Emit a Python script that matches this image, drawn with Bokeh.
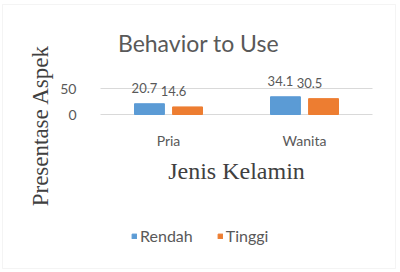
import math
from bokeh.plotting import figure
from bokeh.models import (ColumnDataSource, FixedTicker, Range1d, Label, Legend,
                          LegendItem, BoxAnnotation)
from bokeh.transform import dodge
from bokeh.core.properties import value
from bokeh.embed import file_html
from bokeh.resources import INLINE

categories = ["Pria", "Wanita"]
rendah = [20.7, 34.1]
tinggi = [14.6, 30.5]
series_names = ["Rendah", "Tinggi"]
y_ticks = [0, 50]
title_text = "Behavior to Use"
x_title = "Jenis Kelamin"
y_title = "Presentase Aspek"

BLUE = "#5B9BD5"
ORANGE = "#ED7D31"
GRAY = "#595959"
DARK = "#404040"
FONT = "Lato"
SERIF = "Liberation Serif"

W, H = 400, 272
# plot area: x 100..372 px holds the categories; value 0 at 114 px, 50 at 88 px
PX_PER_CAT = 136.0
PX_PER_UNIT = 26.0 / 50.0
x0_px, y0_px = 100, 114
n = len(categories)
centers = [i + 0.5 for i in range(n)]

src = ColumnDataSource(dict(
    xc=centers, rendah=rendah, tinggi=tinggi,
    rendah_lbl=[f"{v:.1f}" for v in rendah],
    tinggi_lbl=[f"{v:.1f}" for v in tinggi],
))
grid_src = ColumnDataSource(dict(y=y_ticks, x0=[0] * len(y_ticks),
                                 x1=[n] * len(y_ticks)))

p = figure(width=W, height=H,
           x_range=Range1d(-x0_px / PX_PER_CAT, (W - x0_px) / PX_PER_CAT),
           y_range=Range1d(-(H - y0_px) / PX_PER_UNIT, y0_px / PX_PER_UNIT),
           output_backend="svg", toolbar_location=None, min_border=0)
p.outline_line_color = None
p.background_fill_color = "white"
p.border_fill_color = "white"
p.xgrid.visible = False
p.ygrid.visible = False

p.segment(x0="x0", x1="x1", y0="y", y1="y", source=grid_src,
          line_color="#D9D9D9", line_width=1)

DODGE = 0.14
r1 = p.vbar(x=dodge("xc", -DODGE), top="rendah", width=0.22,
            source=src, color=BLUE)
r2 = p.vbar(x=dodge("xc", DODGE), top="tinggi", width=0.22,
            source=src, color=ORANGE)

p.text(x=dodge("xc", -DODGE), y="rendah", text="rendah_lbl",
       source=src, text_align="center", text_baseline="middle",
       y_offset=-16, x_offset=-5, text_font=value(FONT),
       text_font_size="13px", text_color=GRAY)
p.text(x=dodge("xc", DODGE), y="tinggi", text="tinggi_lbl",
       source=src, text_align="center", text_baseline="middle",
       y_offset=-16, x_offset=-14, text_font=value(FONT),
       text_font_size="13px", text_color=GRAY)

p.yaxis.fixed_location = 0
p.yaxis.ticker = FixedTicker(ticks=y_ticks)
p.yaxis.axis_line_color = None
p.yaxis.major_tick_line_color = None
p.yaxis.minor_tick_line_color = None
p.yaxis.major_label_standoff = 18
p.yaxis.major_label_text_font = FONT
p.yaxis.major_label_text_font_size = "14px"
p.yaxis.major_label_text_color = GRAY

p.xaxis.fixed_location = 0
p.xaxis.bounds = (0, n)
p.xaxis.ticker = FixedTicker(ticks=centers)
p.xaxis.major_label_overrides = {c: name for c, name in zip(centers, categories)}
p.xaxis.axis_line_color = None
p.xaxis.major_tick_line_color = None
p.xaxis.minor_tick_line_color = None
p.xaxis.major_label_standoff = 11
p.xaxis.major_label_text_font = FONT
p.xaxis.major_label_text_font_size = "14px"
p.xaxis.major_label_text_color = GRAY
p.xaxis.axis_label = x_title
p.xaxis.axis_label_standoff = 6
p.xaxis.axis_label_text_font = SERIF
p.xaxis.axis_label_text_font_style = "normal"
p.xaxis.axis_label_text_font_size = "24px"
p.xaxis.axis_label_text_color = DARK

p.add_layout(Label(x=198, y=H - 42, x_units="screen", y_units="screen",
                   text=title_text, text_align="center", text_baseline="middle",
                   text_font=FONT, text_font_size="23px", text_color=GRAY))
p.add_layout(Label(x=40, y=H - 125, x_units="screen", y_units="screen",
                   text=y_title, angle=math.pi / 2, text_align="center",
                   text_baseline="middle",
                   text_font=SERIF, text_font_size="23px", text_color=DARK))

legend = Legend(items=[LegendItem(label=series_names[0], renderers=[r1]),
                       LegendItem(label=series_names[1], renderers=[r2])],
                orientation="horizontal", location=(131, 27),
                glyph_width=6, glyph_height=6, spacing=24, label_standoff=3,
                label_text_font=FONT, label_text_font_size="16px",
                label_text_color=GRAY, border_line_color=None,
                background_fill_alpha=0, padding=0, margin=0)
p.add_layout(legend, "center")

p.add_layout(BoxAnnotation(left=2, right=395, bottom=4, top=268,
                           left_units="screen", right_units="screen",
                           top_units="screen", bottom_units="screen",
                           fill_alpha=0, line_color="#D9D9D9", line_width=1))

open("out.html", "w").write(file_html(p, INLINE))
